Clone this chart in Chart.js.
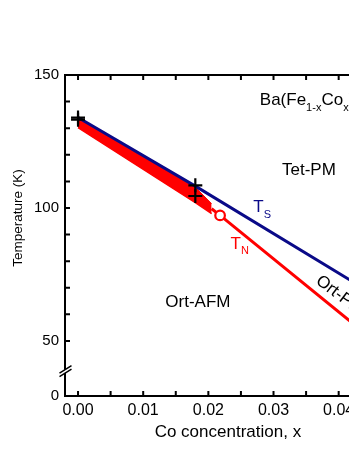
<!DOCTYPE html>
<html>
<head>
<meta charset="utf-8">
<script src="https://cdn.jsdelivr.net/npm/chart.js@4.4.1/dist/chart.umd.min.js"></script>
<style>
  html, body { margin: 0; padding: 0; background: #fff; overflow: hidden; }
  #wrap { width: 400px; height: 451px; }
</style>
</head>
<body>
<div id="wrap"><canvas id="chart"></canvas></div>
<script>
// axis ranges (y axis is broken below 50, its bottom edge is labelled 0)
const xMin = -0.002, xMax = 0.048;
const yMin = 29.3, yMax = 150;
const xTicks = [0, 0.01, 0.02, 0.03, 0.04];
const xMinor = [0.005, 0.015, 0.025, 0.035, 0.045];
const yTicks = [50, 100, 150];
const yMinor = [60, 70, 80, 90, 110, 120, 130, 140];
const yBreak = 39;

// structural transition T_S
const tsX = [0, 0.018, 0.048];
const tsY = [134, 108.2, 63.6];

// magnetic transition T_N (thick band, then thin line)
const bandX = [0, 0.018, 0.0205];
const bandTop = [133.6, 107.8, 101.6];
const bandBottom = [130.2, 102.0, 97.9];
const tnX = [0.0205, 0.0218, 0.048];
const tnY = [99.7, 97.2, 45];

// open circle and measured points
const circleX = [0.0218];
const circleY = [97.2];
const crossX = [0, 0, 0.018, 0.018];
const crossY = [134, 133.2, 108.5, 104.5];

const FONT = "'Liberation Sans', Arial, sans-serif";
const BLUE = "#0a0a88";
const RED = "#ff0000";

function pts(xs, ys) {
  return xs.map((x, i) => ({ x: x, y: ys[i] }));
}

// labels inside the plot, anchored in data coordinates
const notes = [
  { parts: [["Ba(Fe", 0], ["1-x", 1], ["Co", 0], ["x", 1], [")", 0], ["2", 1], ["As", 0], ["2", 1]], x: 0.0279, y: 138.7, color: "#000" },
  { parts: [["Tet-PM", 0]], x: 0.0313, y: 112.3, color: "#000" },
  { parts: [["T", 0], ["S", 1]], x: 0.0269, y: 98.4, color: BLUE },
  { parts: [["T", 0], ["N", 1]], x: 0.0234, y: 84.7, color: RED },
  { parts: [["Ort-AFM", 0]], x: 0.0134, y: 62.8, color: "#000" },
];
const rotatedNote = { text: "Ort-PM", x: 0.0368, y: 73.3, angle: 37 };

function drawParts(ctx, parts, px, py) {
  let cx = px;
  parts.forEach(([t, sub]) => {
    ctx.font = (sub ? "11px " : "17px ") + FONT;
    ctx.fillText(t, cx, sub ? py + 5.5 : py);
    cx += ctx.measureText(t).width;
  });
}

const framePlugin = {
  id: "frame",
  afterDatasetsDraw(chart) {
    const { ctx, chartArea: a, scales: { x, y } } = chart;
    ctx.save();
    ctx.strokeStyle = "#000";
    ctx.lineWidth = 2;
    ctx.strokeRect(a.left, a.top, a.right - a.left, a.bottom - a.top);
    ctx.beginPath();
    xTicks.concat(xMinor).forEach((v) => {
      const px = x.getPixelForValue(v);
      ctx.moveTo(px, a.bottom); ctx.lineTo(px, a.bottom - 5);
      ctx.moveTo(px, a.top); ctx.lineTo(px, a.top + 5);
    });
    yTicks.concat(yMinor).forEach((v) => {
      const py = y.getPixelForValue(v);
      ctx.moveTo(a.left, py); ctx.lineTo(a.left + 5, py);
      ctx.moveTo(a.right, py); ctx.lineTo(a.right - 5, py);
    });
    ctx.stroke();

    // axis break on the left axis
    const by = y.getPixelForValue(yBreak);
    const bx = a.left;
    ctx.fillStyle = "#fff";
    ctx.beginPath();
    ctx.moveTo(bx - 5, by + 2.5);
    ctx.lineTo(bx + 6, by - 4.5);
    ctx.lineTo(bx + 6, by - 1);
    ctx.lineTo(bx - 5, by + 6);
    ctx.closePath();
    ctx.fill();
    ctx.lineWidth = 1.5;
    ctx.beginPath();
    ctx.moveTo(bx - 5.5, by + 3); ctx.lineTo(bx + 6.5, by - 4.5);
    ctx.moveTo(bx - 5.5, by + 6.5); ctx.lineTo(bx + 6.5, by - 1);
    ctx.stroke();
    ctx.restore();
  },
  afterDraw(chart) {
    const { ctx, chartArea: a, scales: { x, y } } = chart;
    ctx.save();
    ctx.textBaseline = "alphabetic";
    ctx.textAlign = "left";
    notes.forEach((n) => {
      ctx.fillStyle = n.color;
      drawParts(ctx, n.parts, x.getPixelForValue(n.x), y.getPixelForValue(n.y));
    });

    // label along the phase line, runs off the right edge
    ctx.save();
    ctx.fillStyle = "#000";
    ctx.font = "17px " + FONT;
    ctx.textBaseline = "middle";
    ctx.translate(x.getPixelForValue(rotatedNote.x), y.getPixelForValue(rotatedNote.y));
    ctx.rotate(rotatedNote.angle * Math.PI / 180);
    ctx.fillText(rotatedNote.text, 0, 0);
    ctx.restore();

    // axis titles
    ctx.fillStyle = "#000";
    ctx.textAlign = "center";
    ctx.textBaseline = "middle";
    ctx.font = "17px " + FONT;
    ctx.fillText("Co concentration, x", (a.left + a.right) / 2, 432);
    ctx.save();
    ctx.translate(18, 218);
    ctx.rotate(-Math.PI / 2);
    ctx.font = "13.5px " + FONT;
    ctx.fillText("Temperature (K)", 0, 0);
    ctx.restore();
    ctx.restore();
  },
};

new Chart(document.getElementById("chart"), {
  type: "line",
  data: {
    datasets: [
      {
        data: pts(crossX, crossY),
        showLine: false,
        pointStyle: "cross",
        pointRadius: 7,
        pointBorderWidth: 2.2,
        pointBorderColor: "#000",
      },
      {
        data: pts(circleX, circleY),
        showLine: false,
        pointRadius: 4.8,
        pointBorderWidth: 2.2,
        pointBorderColor: RED,
        pointBackgroundColor: "#fff",
      },
      {
        data: pts(tnX, tnY),
        borderColor: RED,
        borderWidth: 3,
        pointRadius: 0,
        fill: false,
      },
      {
        data: pts(tsX, tsY),
        borderColor: BLUE,
        borderWidth: 3,
        pointRadius: 0,
        fill: false,
      },
      {
        data: pts(bandX, bandTop),
        borderColor: RED,
        borderWidth: 1,
        pointRadius: 0,
        fill: false,
      },
      {
        data: pts(bandX, bandBottom),
        borderColor: RED,
        borderWidth: 1.5,
        pointRadius: 0,
        backgroundColor: RED,
        fill: "-1",
      },
    ],
  },
  options: {
    responsive: true,
    maintainAspectRatio: false,
    animation: false,
    devicePixelRatio: 1,
    layout: { padding: { top: 75, right: 4, left: 0, bottom: 0 } },
    plugins: { legend: { display: false }, tooltip: { enabled: false } },
    scales: {
      x: {
        type: "linear",
        min: xMin,
        max: xMax,
        grid: { display: false, drawTicks: false },
        border: { display: false },
        afterFit: (s) => { s.height = 55; },
        afterBuildTicks: (s) => { s.ticks = xTicks.map((v) => ({ value: v })); },
        ticks: {
          padding: 5,
          maxRotation: 0,
          color: "#000",
          font: { family: FONT, size: 16 },
          callback: (v) => Number(v).toFixed(2),
        },
      },
      y: {
        type: "linear",
        min: yMin,
        max: yMax,
        grid: { display: false, drawTicks: false },
        border: { display: false },
        afterFit: (s) => { s.width = 65; },
        afterBuildTicks: (s) => { s.ticks = [yMin].concat(yTicks).map((v) => ({ value: v })); },
        ticks: {
          padding: 6,
          color: "#000",
          font: { family: FONT, size: 15 },
          callback: (v) => (v === yMin ? "0" : String(v)),
        },
      },
    },
  },
  plugins: [framePlugin],
});
</script>
</body>
</html>
